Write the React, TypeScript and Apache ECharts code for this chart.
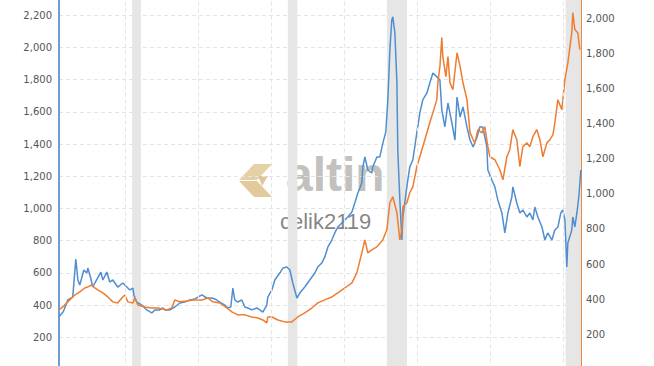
import React, { useEffect, useRef } from 'react';
import * as echarts from 'echarts';

// [year, USD/oz] — platinum (left axis, blue)
const platinum: [number, number][] = [
  [1985.49, 326], [1985.8, 360], [1986.1, 432], [1986.44, 450], [1986.65, 686], [1986.79, 556], [1986.92, 525],
  [1987.2, 618], [1987.4, 599], [1987.47, 630], [1987.67, 568], [1987.81, 512], [1987.95, 537],
  [1988.36, 605], [1988.5, 556], [1988.77, 605], [1988.97, 543], [1989.18, 556], [1989.52, 512],
  [1989.86, 537], [1990.14, 512], [1990.34, 494], [1990.55, 506], [1990.62, 463], [1990.82, 419],
  [1991.16, 400], [1991.5, 370], [1991.85, 351], [1992.05, 370], [1992.39, 370], [1992.6, 382],
  [1992.74, 370], [1993.08, 370], [1993.42, 388], [1993.76, 413], [1994.1, 419], [1994.45, 432],
  [1994.79, 438], [1995.27, 463], [1995.61, 444], [1995.95, 444], [1996.16, 438], [1996.5, 419],
  [1996.84, 400], [1997.05, 382], [1997.25, 388], [1997.39, 506], [1997.52, 432], [1997.73, 419],
  [1998.0, 432], [1998.21, 388], [1998.41, 382], [1998.69, 370], [1999.03, 382], [1999.23, 370],
  [1999.44, 357], [1999.71, 400], [1999.78, 450], [2000.06, 494], [2000.26, 556], [2000.6, 599],
  [2000.81, 630], [2001.08, 637], [2001.29, 618], [2001.49, 537], [2001.77, 444], [2001.97, 475],
  [2002.31, 512], [2002.65, 556], [2003.0, 599], [2003.2, 637], [2003.47, 661], [2003.68, 699],
  [2003.89, 761], [2004.16, 804], [2004.36, 848], [2004.57, 885], [2004.84, 910], [2005.05, 929],
  [2005.25, 947], [2005.53, 978], [2005.73, 1034], [2005.94, 1096], [2006.21, 1158], [2006.28, 1258],
  [2006.42, 1320], [2006.62, 1239], [2006.89, 1220], [2006.96, 1258], [2007.24, 1320], [2007.44, 1320],
  [2007.65, 1406], [2007.85, 1475], [2007.99, 1674], [2008.13, 1985], [2008.26, 2171], [2008.33, 2190],
  [2008.47, 2090], [2008.61, 1779], [2008.67, 1363], [2008.81, 1053], [2008.95, 805], [2009.02, 947],
  [2009.29, 1134], [2009.49, 1258], [2009.7, 1301], [2009.97, 1469], [2010.18, 1593], [2010.38, 1674],
  [2010.66, 1717], [2010.86, 1779], [2011.07, 1841], [2011.34, 1817], [2011.55, 1798], [2011.68, 1612],
  [2011.89, 1506], [2012.1, 1655], [2012.37, 1531], [2012.58, 1425], [2012.72, 1692], [2012.93, 1568],
  [2013.13, 1631], [2013.4, 1506], [2013.61, 1425], [2013.82, 1382], [2014.09, 1444], [2014.28, 1506],
  [2014.48, 1506], [2014.76, 1382], [2014.83, 1239], [2015.1, 1177], [2015.31, 1134], [2015.51, 1053],
  [2015.79, 972], [2015.99, 848], [2016.2, 972], [2016.47, 1071], [2016.54, 1134], [2016.81, 1034],
  [2017.02, 972], [2017.22, 991], [2017.5, 947], [2017.7, 972], [2017.91, 929], [2018.04, 1009],
  [2018.25, 947], [2018.53, 885], [2018.73, 804], [2018.93, 848], [2019.21, 804], [2019.41, 866],
  [2019.62, 885], [2019.82, 972], [2019.96, 991], [2020.1, 929], [2020.23, 637], [2020.3, 786],
  [2020.57, 866], [2020.64, 947], [2020.78, 885], [2020.92, 972], [2021.05, 1071], [2021.19, 1239],
];

// [year, USD/oz] — gold (right axis, orange)
const gold: [number, number][] = [
  [1985.49, 339], [1985.76, 356], [1986.1, 385], [1986.58, 424], [1986.92, 442], [1987.26, 464],
  [1987.47, 470], [1987.74, 481], [1987.95, 464], [1988.15, 453], [1988.5, 436], [1988.84, 413],
  [1989.18, 385], [1989.52, 379], [1989.79, 407], [1990.0, 424], [1990.21, 385], [1990.55, 379],
  [1990.68, 407], [1990.89, 367], [1991.37, 356], [1991.85, 350], [1992.26, 350], [1992.6, 345],
  [1992.87, 339], [1993.21, 350], [1993.42, 396], [1993.76, 385], [1994.24, 390], [1994.65, 396],
  [1995.27, 396], [1995.68, 407], [1996.02, 385], [1996.5, 379], [1996.98, 350], [1997.32, 328],
  [1997.73, 311], [1998.21, 311], [1998.69, 299], [1999.1, 293], [1999.44, 282], [1999.71, 265],
  [1999.78, 299], [2000.06, 299], [2000.47, 282], [2000.94, 271], [2001.42, 271], [2001.83, 299],
  [2002.31, 322], [2002.79, 350], [2003.2, 379], [2003.68, 396], [2004.16, 413], [2004.57, 436],
  [2005.05, 464], [2005.53, 493], [2005.87, 550], [2006.21, 664], [2006.42, 738], [2006.62, 664],
  [2006.89, 681], [2007.24, 698], [2007.65, 738], [2007.92, 795], [2008.13, 949], [2008.33, 983],
  [2008.61, 892], [2008.81, 738], [2008.95, 795], [2009.02, 926], [2009.29, 949], [2009.49, 1006],
  [2009.7, 1040], [2009.97, 1154], [2010.18, 1211], [2010.38, 1268], [2010.66, 1348], [2010.86, 1405],
  [2011.07, 1462], [2011.34, 1536], [2011.41, 1632], [2011.55, 1724], [2011.68, 1889], [2011.75, 1781],
  [2011.96, 1667], [2012.1, 1781], [2012.24, 1632], [2012.44, 1593], [2012.72, 1803], [2012.93, 1724],
  [2013.13, 1632], [2013.4, 1536], [2013.61, 1348], [2013.82, 1309], [2013.94, 1290], [2014.15, 1365],
  [2014.43, 1347], [2014.62, 1382], [2014.83, 1268], [2014.97, 1211], [2015.31, 1194], [2015.65, 1137],
  [2015.86, 1080], [2016.13, 1211], [2016.33, 1251], [2016.54, 1365], [2016.81, 1308], [2017.02, 1154],
  [2017.22, 1268], [2017.5, 1290], [2017.7, 1268], [2017.91, 1325], [2018.18, 1365], [2018.39, 1308],
  [2018.59, 1211], [2018.87, 1290], [2019.07, 1308], [2019.28, 1336], [2019.41, 1404], [2019.62, 1536],
  [2019.89, 1479], [2020.1, 1650], [2020.3, 1746], [2020.57, 1917], [2020.64, 2031], [2020.78, 1934],
  [2020.98, 1917], [2021.12, 1821],
];

const recessions: [number, number][] = [
  [1990.5, 1991.1], [2001.15, 2001.8], [2007.92, 2009.3], [2020.15, 2021.2],
];
const gridYears = [1990, 1995, 2000, 2005, 2010, 2015, 2020];
const xStart = 1985.5;
const xEnd = 2021.2;
const leftMax = 2400;
const rightMax = 2200;
const watermarkBrand = 'altin';
const watermarkUser = 'celik2119';

const BLUE = '#4f8fd0';
const ORANGE = '#ee7d31';

export default function App() {
  const ref = useRef<HTMLDivElement>(null);
  useEffect(() => {
    if (!ref.current) return;
    const chart = echarts.init(ref.current, undefined, { renderer: 'svg' });
    const fmt = (v: number) => v.toLocaleString('en-US');
    chart.setOption({
      animation: false,
      grid: { left: 59, right: 73, top: -17, bottom: -3.5, containLabel: false, outerBoundsMode: 'none' },
      xAxis: {
        type: 'value', min: xStart, max: xEnd, show: false,
        splitLine: { show: false },
      },
      yAxis: [
        {
          type: 'value', min: 0, max: leftMax, interval: 200, position: 'left',
          axisLine: { show: true, lineStyle: { color: '#6b9fd1', width: 2 } },
          axisTick: { show: false },
          axisLabel: {
            color: '#555', fontFamily: 'DejaVu Sans', fontSize: 10, margin: 7, formatter: fmt,
            showMinLabel: false, showMaxLabel: false,
          },
          splitLine: { show: true, lineStyle: { color: '#e4e4e4', type: [4, 3], width: 1 } },
        },
        {
          type: 'value', min: 0, max: rightMax, interval: 200, position: 'right',
          axisLine: { show: true, lineStyle: { color: '#f0883c', width: 2 } },
          axisTick: { show: false },
          axisLabel: {
            color: '#555', fontFamily: 'DejaVu Sans', fontSize: 10, margin: 5, formatter: fmt,
            showMinLabel: false, showMaxLabel: false,
          },
          splitLine: { show: false },
        },
      ],
      series: [
        {
          type: 'line', data: [], z: 1, silent: true,
          markArea: {
            silent: true,
            itemStyle: { color: '#e6e6e6' },
            data: recessions.map(([a, b]) => [{ xAxis: a }, { xAxis: b }]),
          },
          markLine: {
            silent: true, symbol: 'none', label: { show: false },
            lineStyle: { color: '#e4e4e4', type: [4, 3], width: 1 },
            data: gridYears.map((y) => ({ xAxis: y })),
          },
        },
        {
          type: 'line', yAxisIndex: 0, data: platinum, showSymbol: false, z: 3,
          lineStyle: { color: BLUE, width: 1.5 }, itemStyle: { color: BLUE },
        },
        {
          type: 'line', yAxisIndex: 1, data: gold, showSymbol: false, z: 4,
          lineStyle: { color: ORANGE, width: 1.5 }, itemStyle: { color: ORANGE },
        },
      ],
      graphic: [
        {
          type: 'group', z: 100, silent: true,
          children: [
            { type: 'polygon', shape: { points: [[254, 164], [272, 164], [257, 180], [239, 180]] }, style: { fill: '#ddc087', opacity: 0.75 } },
            { type: 'polygon', shape: { points: [[239, 181], [257, 181], [272, 197], [254, 197]] }, style: { fill: '#d9b878', opacity: 0.75 } },
            { type: 'polygon', shape: { points: [[258, 176], [268, 176], [262, 186]] }, style: { fill: '#c9a25a', opacity: 0.6 } },
            {
              type: 'text', x: 286, y: 198,
              style: { text: watermarkBrand, fill: '#b3b0ab', opacity: 0.8, font: 'bold 48px "Liberation Sans"', textVerticalAlign: 'bottom' },
            },
            {
              type: 'text', x: 280, y: 232,
              style: { text: watermarkUser, fill: '#6f6f6f', opacity: 0.85, font: '22px "Liberation Sans"', textVerticalAlign: 'bottom' },
            },
          ],
        },
      ],
    });
    return () => chart.dispose();
  }, []);
  return <div ref={ref} style={{ position: 'absolute', left: 0, top: 0, width: 654, height: 366 }} />;
}
